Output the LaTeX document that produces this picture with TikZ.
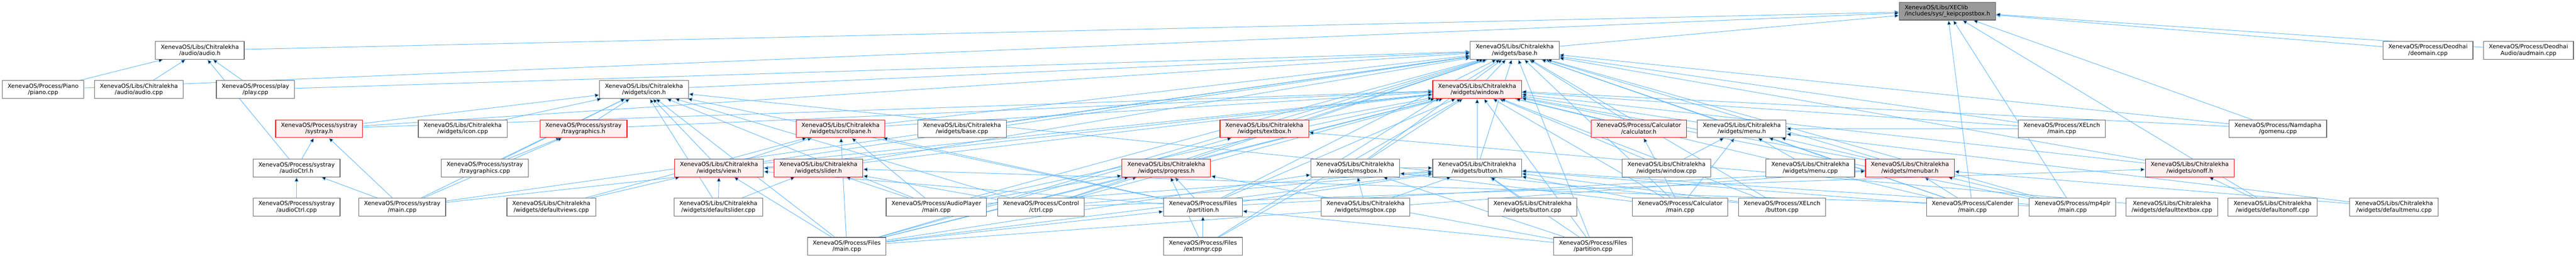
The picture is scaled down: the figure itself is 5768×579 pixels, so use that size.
\documentclass[tikz,border=0pt]{standalone}
\usepackage{fontspec}
\setmainfont{DejaVu Sans}
\usepackage{tikz}
\usetikzlibrary{positioning,
                arrows.meta}                % arrow tips

\definecolor{depblue}{HTML}{63B8FF}
\definecolor{boxgray}{HTML}{666666}
\definecolor{rootgray}{HTML}{999999}
\definecolor{pink}{HTML}{FFF0F0}

\pgfdeclarelayer{bg}
\pgfsetlayers{bg,main}

\begin{document}
\begin{tikzpicture}[x=1pt, y=-1pt,
        file/.style={draw=boxgray, fill=white, line width=1.3pt, align=center,
                     minimum height=40pt, inner xsep=12pt, inner ysep=0pt,
                     font=\fontsize{12.9}{14.5}\selectfont},
        redfile/.style={file, draw=red, fill=pink},
        rootfile/.style={file, fill=rootgray, align=left},
        dep/.style={draw=depblue, line width=1.1pt, -{Triangle[length=10pt,width=9pt]}}]

                \useasboundingbox (0,0) rectangle (5768,579);

                \node[rootfile] (root) at (4360.5,25) {XenevaOS/Libs/XEClib\\/includes/sys/\_keipcpostbox.h};

                \node[file] (audioh)  at (447.5,113)  {XenevaOS/Libs/Chitralekha\\/audio/audio.h};
                \node[file] (baseh)   at (3391.5,113) {XenevaOS/Libs/Chitralekha\\/widgets/base.h};
                \node[file] (deomain) at (5436.5,113) {XenevaOS/Process/Deodhai\\/deomain.cpp};
                \node[file] (audmain) at (5661.5,113) {XenevaOS/Process/Deodhai\\Audio/audmain.cpp};

                \node[file] (piano)    at (96.5,201)   {XenevaOS/Process/Piano\\/piano.cpp};
                \node[file] (audiocpp) at (311,201)    {XenevaOS/Libs/Chitralekha\\/audio/audio.cpp};
                \node[file] (play)     at (572,201)    {XenevaOS/Process/play\\/play.cpp};
                \node[file] (iconh)    at (1442,201)   {XenevaOS/Libs/Chitralekha\\/widgets/icon.h};
                \node[redfile] (windowh) at (3307.5,201) {XenevaOS/Libs/Chitralekha\\/widgets/window.h};

                \node[redfile] (systrayh) at (714.5,289)  {XenevaOS/Process/systray\\/systray.h};
                \node[file] (iconcpp)     at (1036,289)   {XenevaOS/Libs/Chitralekha\\/widgets/icon.cpp};
                \node[redfile] (traygfxh) at (1306.5,289) {XenevaOS/Process/systray\\/traygraphics.h};
                \node[redfile] (scrollh)  at (1882,289)   {XenevaOS/Libs/Chitralekha\\/widgets/scrollpane.h};
                \node[file] (basecpp)     at (2154,289)   {XenevaOS/Libs/Chitralekha\\/widgets/base.cpp};
                \node[redfile] (textboxh) at (2831,289)   {XenevaOS/Libs/Chitralekha\\/widgets/textbox.h};
                \node[redfile] (calch)    at (3669.5,289) {XenevaOS/Process/Calculator\\/calculator.h};
                \node[file] (menuh)       at (3900,289)   {XenevaOS/Libs/Chitralekha\\/widgets/menu.h};
                \node[file] (lnchmain)    at (4616.5,289) {XenevaOS/Process/XELnch\\/main.cpp};
                \node[file] (gomenu)      at (5100.5,289) {XenevaOS/Process/Namdapha\\/gomenu.cpp};

                \node[file] (actrlh)      at (664,377)    {XenevaOS/Process/systray\\/audioCtrl.h};
                \node[file] (traygfxcpp)  at (1085.5,377) {XenevaOS/Process/systray\\/traygraphics.cpp};
                \node[redfile] (viewh)    at (1610,377)   {XenevaOS/Libs/Chitralekha\\/widgets/view.h};
                \node[redfile] (sliderh)  at (1832.5,377) {XenevaOS/Libs/Chitralekha\\/widgets/slider.h};
                \node[redfile] (progressh) at (2611.5,377) {XenevaOS/Libs/Chitralekha\\/widgets/progress.h};
                \node[file] (msgboxh)     at (3034.5,377) {XenevaOS/Libs/Chitralekha\\/widgets/msgbox.h};
                \node[file] (buttonh)     at (3307.5,377) {XenevaOS/Libs/Chitralekha\\/widgets/button.h};
                \node[file] (windowcpp)   at (3731.5,377) {XenevaOS/Libs/Chitralekha\\/widgets/window.cpp};
                \node[file] (menucpp)     at (4053.5,377) {XenevaOS/Libs/Chitralekha\\/widgets/menu.cpp};
                \node[redfile] (menubarh) at (4276.5,377) {XenevaOS/Libs/Chitralekha\\/widgets/menubar.h};
                \node[redfile] (onoffh)   at (4903,377)   {XenevaOS/Libs/Chitralekha\\/widgets/onoff.h};

                \node[file] (actrlcpp)   at (664,465)    {XenevaOS/Process/systray\\/audioCtrl.cpp};
                \node[file] (traymain)   at (900.5,465)  {XenevaOS/Process/systray\\/main.cpp};
                \node[file] (defviews)   at (1234.5,465) {XenevaOS/Libs/Chitralekha\\/widgets/defaultviews.cpp};
                \node[file] (defslider)  at (1608.5,465) {XenevaOS/Libs/Chitralekha\\/widgets/defaultslider.cpp};
                \node[file] (apmain)     at (2096.5,465) {XenevaOS/Process/AudioPlayer\\/main.cpp};
                \node[file] (ctrl)       at (2331,465)   {XenevaOS/Process/Control\\/ctrl.cpp};
                \node[file] (parth)      at (2693.5,465) {XenevaOS/Process/Files\\/partition.h};
                \node[file] (msgboxcpp)  at (3057.5,465) {XenevaOS/Libs/Chitralekha\\/widgets/msgbox.cpp};
                \node[file] (buttoncpp)  at (3431.5,465) {XenevaOS/Libs/Chitralekha\\/widgets/button.cpp};
                \node[file] (calcmain)   at (3762,465)   {XenevaOS/Process/Calculator\\/main.cpp};
                \node[file] (lnchbutton) at (3990,465)   {XenevaOS/Process/XELnch\\/button.cpp};
                \node[file] (calmain)    at (4416.5,465) {XenevaOS/Process/Calender\\/main.cpp};
                \node[file] (mp4main)    at (4640.5,465) {XenevaOS/Process/mp4plr\\/main.cpp};
                \node[file] (deftextbox) at (4863,465)   {XenevaOS/Libs/Chitralekha\\/widgets/defaulttextbox.cpp};
                \node[file] (defonoff)   at (5088.5,465) {XenevaOS/Libs/Chitralekha\\/widgets/defaultonoff.cpp};
                \node[file] (defmenu)    at (5360.5,465) {XenevaOS/Libs/Chitralekha\\/widgets/defaultmenu.cpp};

                \node[file] (filesmain) at (1896,553)   {XenevaOS/Process/Files\\/main.cpp};
                \node[file] (extmngr)   at (2693.5,553) {XenevaOS/Process/Files\\/extmngr.cpp};
                \node[file] (partcpp)   at (3567,553)   {XenevaOS/Process/Files\\/partition.cpp};

                \begin{pgfonlayer}{bg}
                \path[dep] (audioh) edge (root);
                \path[dep] (baseh) edge (root);
                \path[dep] (deomain) edge (root);
                \path[dep] (audmain) edge (root);
                \path[dep] (piano) edge (root) edge (audioh);
                \path[dep] (audiocpp) edge (audioh);
                \path[dep] (play) edge (audioh) edge (baseh);
                \path[dep] (iconh) edge (baseh);
                \path[dep] (windowh) edge (baseh);
                \path[dep] (systrayh) edge (iconh) edge (windowh) edge (baseh);
                \path[dep] (iconcpp) edge (iconh);
                \path[dep] (traygfxh) edge (iconh) edge (windowh);
                \path[dep] (scrollh) edge (baseh) edge (windowh);
                \path[dep] (basecpp) edge (baseh);
                \path[dep] (textboxh) edge (baseh) edge (windowh);
                \path[dep] (calch) edge (baseh) edge (windowh);
                \path[dep] (menuh) edge (baseh) edge (windowh);
                \path[dep] (lnchmain) edge (baseh) edge (windowh) edge (menuh);
                \path[dep] (gomenu) edge (root) edge (baseh) edge (windowh);
                \path[dep] (actrlh) edge (audioh) edge (systrayh);
                \path[dep] (traygfxcpp) edge (traygfxh) edge (iconh);
                \path[dep] (viewh) edge (iconh) edge (scrollh) edge (baseh) edge (windowh);
                \path[dep] (sliderh) edge (baseh) edge (windowh) edge (viewh);
                \path[dep] (progressh) edge (baseh) edge (windowh);
                \path[dep] (msgboxh) edge (baseh) edge (windowh) edge (buttonh);
                \path[dep] (buttonh) edge (baseh) edge (windowh);
                \path[dep] (windowcpp) edge (windowh) edge (menuh);
                \path[dep] (menucpp) edge (menuh);
                \path[dep] (menubarh) edge (menuh) edge (baseh) edge (windowh);
                \path[dep] (onoffh) edge (baseh) edge (windowh);
                \path[dep] (actrlcpp) edge (actrlh);
                \path[dep] (traymain) edge (actrlh) edge (systrayh) edge (traygfxh) edge (iconh) edge (windowh) edge (baseh);
                \path[dep] (defviews) edge (viewh) edge (scrollh);
                \path[dep] (defslider) edge (sliderh) edge (viewh) edge (iconh);
                \path[dep] (apmain) edge (windowh) edge (baseh) edge (buttonh) edge (sliderh) edge (iconh) edge (scrollh) edge (progressh);
                \path[dep] (ctrl) edge (windowh) edge (baseh) edge (buttonh) edge (sliderh) edge (onoffh) edge (iconh) edge (progressh);
                \path[dep] (parth) edge (windowh) edge (baseh) edge (progressh) edge (iconh) edge (scrollh) edge (viewh) edge (buttonh) edge (menubarh);
                \path[dep] (msgboxcpp) edge (msgboxh) edge (buttonh);
                \path[dep] (buttoncpp) edge (buttonh);
                \path[dep] (calcmain) edge (calch) edge (buttonh) edge (windowh) edge (baseh) edge (msgboxh) edge (menuh);
                \path[dep] (lnchbutton) edge (windowh) edge (baseh) edge (buttonh) edge (iconh);
                \path[dep] (calmain) edge (root) edge (windowh) edge (baseh) edge (buttonh) edge (menubarh) edge (menuh);
                \path[dep] (mp4main) edge (root) edge (windowh) edge (baseh) edge (buttonh) edge (sliderh) edge (menubarh);
                \path[dep] (deftextbox) edge (textboxh);
                \path[dep] (defonoff) edge (onoffh) edge (root);
                \path[dep] (defmenu) edge (menuh) edge (menubarh);
                \path[dep] (filesmain) edge (windowh) edge (baseh) edge (iconh) edge (viewh) edge (scrollh) edge (parth) edge (progressh) edge (msgboxh) edge (buttonh) edge (menubarh) edge (textboxh);
                \path[dep] (extmngr) edge (parth) edge (progressh) edge (windowh) edge (baseh);
                \path[dep] (partcpp) edge (parth) edge (progressh) edge (windowh) edge (baseh) edge (msgboxh) edge (buttonh);
                \end{pgfonlayer}

        \end{tikzpicture}
\end{document}
